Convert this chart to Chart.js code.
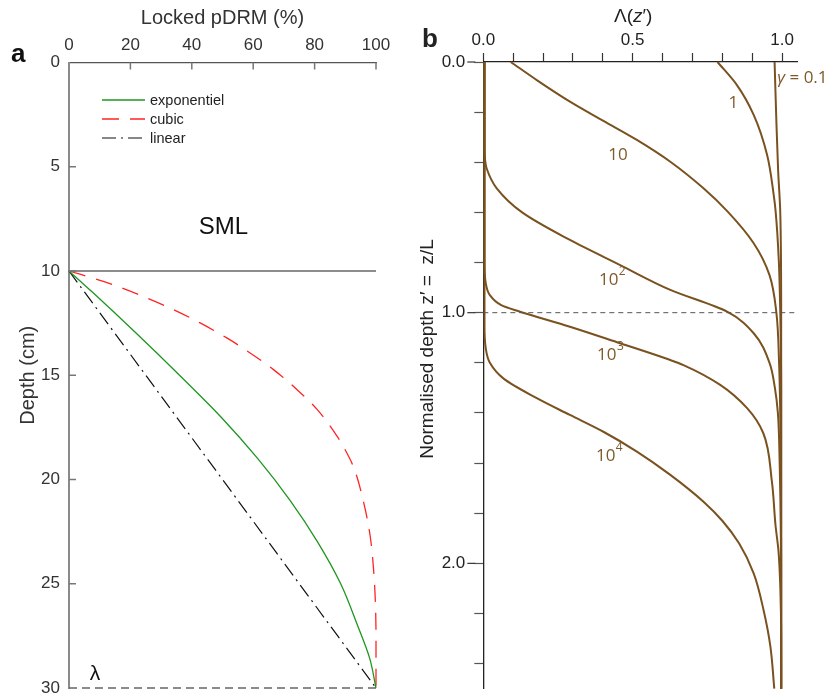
<!DOCTYPE html>
<html><head><meta charset="utf-8">
<script src="https://cdn.jsdelivr.net/npm/chart.js@4.4.1/dist/chart.umd.min.js"></script>
<style>
html,body{margin:0;padding:0;background:#fff;}
#wrap{position:relative;width:829px;height:697px;overflow:hidden;background:#fff;}
#ca{position:absolute;left:0;top:0;}
#cb{position:absolute;left:415px;top:0;}
</style></head><body>
<div id="wrap">
<canvas id="ca" width="415" height="697"></canvas>
<canvas id="cb" width="414" height="697"></canvas>
</div>
<script>
// ---------- Panel a data ----------
const pdrmTicks  = [0, 20, 40, 60, 80, 100];
const depthTicks = [0, 5, 10, 15, 20, 25, 30];
const expPct   = [0, 7.5, 22, 36, 49.5, 61.5, 72, 81, 88.5, 94, 98, 100];
const expDepth = [10, 11, 13, 15, 17, 19, 21, 23, 25, 27, 28.6, 30];
const cubPct   = [0, 11.2, 25.3, 34, 42.7, 51.4, 59, 66.6, 74.2, 80.8, 87.3, 91.6, 93.2, 96, 98.1, 99.2, 99.8, 100, 100];
const cubDepth = [10, 10.5, 11.29, 11.85, 12.49, 13.21, 13.93, 14.73, 15.68, 16.64, 17.92, 19.04, 19.6, 21.11, 22.71, 24.3, 25.9, 27.5, 30];
const linPct   = [0, 100];
const linDepth = [10, 30];
const smlPct   = [0, 100];
const smlDepth = [10, 10];
const lamPct   = [0, 100];
const lamDepth = [30, 30];
const legendNames = ['exponentiel', 'cubic', 'linear'];

// ---------- Panel b data ----------
const gammaLabels = ['0.1', '1', '10', '10', '10', '10'];
const gammaExps   = ['', '', '', '2', '3', '4'];
const lam01 = [0.975, 0.981, 0.987, 0.994, 0.997, 0.997];
const z01   = [0, 0.238, 0.437, 0.6, 1.0, 2.5];
const lam1  = [0.784, 0.849, 0.905, 0.95, 0.972, 0.978, 0.989, 0.994, 0.997, 0.997];
const z1    = [0, 0.092, 0.211, 0.371, 0.53, 0.59, 0.79, 1.0, 1.3, 2.5];
const lam10 = [0.092, 0.179, 0.29, 0.402, 0.514, 0.626, 0.737, 0.818, 0.905, 0.958, 0.981, 0.99, 0.995, 0.997, 0.997];
const z10   = [0, 0.072, 0.158, 0.235, 0.311, 0.398, 0.504, 0.597, 0.723, 0.85, 1.0, 1.2, 1.5, 2.0, 2.5];
const lam100 = [0.004, 0.004, 0.006, 0.011, 0.045, 0.13, 0.29, 0.458, 0.626, 0.816, 0.905, 0.958, 0.976, 0.986, 0.992, 0.996, 0.997];
const z100   = [0, 0.33, 0.39, 0.424, 0.504, 0.6, 0.71, 0.81, 0.909, 0.996, 1.082, 1.2, 1.3, 1.4, 1.6, 1.9, 2.5];
const lam1000 = [0.004, 0.004, 0.008, 0.022, 0.06, 0.123, 0.29, 0.458, 0.626, 0.67, 0.793, 0.883, 0.937, 0.966, 0.978, 0.988, 0.994, 0.997, 0.997];
const z1000   = [0, 0.8, 0.88, 0.93, 0.97, 0.996, 1.056, 1.122, 1.189, 1.209, 1.288, 1.381, 1.48, 1.674, 1.847, 1.95, 2.09, 2.3, 2.5];
const lam10000 = [0.004, 0.004, 0.008, 0.022, 0.067, 0.179, 0.29, 0.402, 0.514, 0.626, 0.737, 0.8, 0.856, 0.905, 0.938, 0.961, 0.974];
const z10000   = [0, 1.05, 1.14, 1.2, 1.262, 1.341, 1.408, 1.475, 1.554, 1.647, 1.754, 1.83, 1.92, 2.04, 2.186, 2.332, 2.5];
const refLam = [0, 1.05];
const refZ   = [1, 1];
const lambdaTickLabels = ['0.0', '0.5', '1.0'];
const zTickLabels      = ['0.0', '1.0', '2.0'];
// label anchor positions (data coords) for the gamma labels
const gammaLabelLam = [0.984, 0.837, 0.451, 0.431, 0.425, 0.421];
const gammaLabelZ   = [0.064, 0.164, 0.371, 0.869, 1.168, 1.572];

const pts = (xs, ys) => xs.map((v, i) => ({x: v, y: ys[i]}));
const FONT = "'Liberation Sans', Arial, Helvetica, sans-serif";
const BROWN = '#7a5220';
const BROWN_TXT = '#7e5a2a';

function line(ctx, x1, y1, x2, y2) { ctx.beginPath(); ctx.moveTo(x1, y1); ctx.lineTo(x2, y2); ctx.stroke(); }
function noPad(s) { s.paddingTop = 0; s.paddingBottom = 0; s.paddingLeft = 0; s.paddingRight = 0; }

// ---------- Panel a ----------
const panelAPlugin = {
  id: 'panelA',
  afterDraw(chart) {
    const {ctx, chartArea: ca, scales: {x, y}} = chart;
    ctx.save();
    ctx.strokeStyle = '#777'; ctx.lineWidth = 1.5;
    pdrmTicks.forEach(v => { if (v > 0) { const px = x.getPixelForValue(v); line(ctx, px, ca.top, px, ca.top + 7); } });
    depthTicks.forEach(v => { if (v > 0 && v < 30) { const py = y.getPixelForValue(v); line(ctx, ca.left, py, ca.left + 7, py); } });
    ctx.font = '14.5px ' + FONT; ctx.textBaseline = 'middle'; ctx.textAlign = 'left';
    legendNames.forEach((name, i) => {
      const ds = chart.data.datasets[i];
      const yy = ca.top + 37.5 + i * 19;
      ctx.strokeStyle = ds.borderColor; ctx.lineWidth = ds.borderWidth;
      ctx.setLineDash(ds.borderDash || []);
      line(ctx, ca.left + 33, yy, ca.left + 76, yy);
      ctx.setLineDash([]);
      ctx.fillStyle = '#222';
      ctx.fillText(name, ca.left + 81, yy + 0.5);
    });
    ctx.fillStyle = '#111'; ctx.textAlign = 'center';
    ctx.font = '24px ' + FONT;
    ctx.fillText('SML', x.getPixelForValue(50.3), y.getPixelForValue(7.9));
    ctx.font = '21px ' + FONT;
    ctx.fillText('λ', x.getPixelForValue(8.5), y.getPixelForValue(29.35));
    ctx.font = 'bold 26px ' + FONT; ctx.textAlign = 'left'; ctx.textBaseline = 'alphabetic';
    ctx.fillText('a', 11, 62);
    ctx.restore();
  }
};

new Chart(document.getElementById('ca'), {
  type: 'line',
  data: {datasets: [
    {label: 'exponentiel', data: pts(expPct, expDepth), borderColor: '#1f961f', borderWidth: 1.3, cubicInterpolationMode: 'monotone', clip: 6},
    {label: 'cubic', data: pts(cubPct, cubDepth), borderColor: '#ff2424', borderWidth: 1.3, borderDash: [17, 11], cubicInterpolationMode: 'monotone', clip: 6},
    {label: 'linear', data: pts(linPct, linDepth), borderColor: '#111', borderWidth: 1.2, borderDash: [14, 5, 2, 5], clip: 6},
    {label: 'SML base', data: pts(smlPct, smlDepth), borderColor: '#666', borderWidth: 1.6, clip: 6},
    {label: 'λ', data: pts(lamPct, lamDepth), borderColor: '#666', borderWidth: 1.5, borderDash: [8, 5], clip: 6}
  ]},
  options: {
    responsive: false, animation: false, devicePixelRatio: 1, indexAxis: 'y',
    elements: {point: {radius: 0}, line: {tension: 0}},
    layout: {padding: {top: 0, left: 0, right: 39, bottom: 9}},
    plugins: {legend: {display: false}, tooltip: {enabled: false}},
    scales: {
      x: {type: 'linear', position: 'top', min: 0, max: 100,
        afterFit: s => { s.height = 62.5; noPad(s); },
        ticks: {stepSize: 20, padding: 7, color: '#333', font: {family: FONT, size: 17}, maxRotation: 0, autoSkip: false},
        grid: {drawOnChartArea: false, drawTicks: false},
        border: {color: '#555', width: 1.3},
        title: {display: true, text: 'Locked pDRM (%)', color: '#333', font: {family: FONT, size: 20}, padding: {top: 6, bottom: 0}}
      },
      y: {type: 'linear', reverse: true, min: 0, max: 30,
        afterFit: s => { s.width = 69; noPad(s); },
        ticks: {stepSize: 5, padding: 9, color: '#333', font: {family: FONT, size: 17}, autoSkip: false},
        grid: {drawOnChartArea: false, drawTicks: false},
        border: {color: '#8a8a8a', width: 2},
        title: {display: true, text: 'Depth (cm)', color: '#333', font: {family: FONT, size: 20}, padding: {top: 16, bottom: 0}}
      }
    }
  },
  plugins: [panelAPlugin]
});

// ---------- Panel b ----------
const panelBPlugin = {
  id: 'panelB',
  afterDraw(chart) {
    const {ctx, chartArea: ca, scales: {x, y}} = chart;
    ctx.save();
    ctx.strokeStyle = '#333'; ctx.lineWidth = 1.2;
    zTickLabels.forEach(t => { const py = y.getPixelForValue(parseFloat(t)); line(ctx, ca.left - 16, py, ca.left - 8, py); });
    ctx.fillStyle = BROWN_TXT; ctx.textBaseline = 'middle';
    gammaLabels.forEach((lab, i) => {
      const px = x.getPixelForValue(gammaLabelLam[i]);
      const py = y.getPixelForValue(gammaLabelZ[i]);
      if (i === 0) {
        ctx.textAlign = 'left';
        ctx.font = 'italic 17px "Open Sans", sans-serif';
        ctx.fillText('γ', px, py);
        const w = ctx.measureText('γ').width;
        ctx.font = '17px "Open Sans", sans-serif';
        ctx.fillText(' = ' + lab, px + w, py);
      } else {
        ctx.font = '17px "Open Sans", sans-serif';
        const w = ctx.measureText(lab).width;
        ctx.font = '12px "Open Sans", sans-serif';
        const we = gammaExps[i] ? ctx.measureText(gammaExps[i]).width : 0;
        const x0 = px - (w + we) / 2;
        ctx.textAlign = 'left';
        ctx.font = '17px "Open Sans", sans-serif';
        ctx.fillText(lab, x0, py);
        if (gammaExps[i]) { ctx.font = '12px "Open Sans", sans-serif'; ctx.fillText(gammaExps[i], x0 + w + 0.5, py - 8); }
      }
    });
    ctx.fillStyle = '#222'; ctx.textBaseline = 'middle'; ctx.textAlign = 'left';
    const tf = '19px ' + FONT, tfi = 'italic 19px ' + FONT;
    const parts = [['Λ(', tf], ['z', tfi], ['′)', tf]];
    let tw = 0; parts.forEach(p => { ctx.font = p[1]; tw += ctx.measureText(p[0]).width; });
    let cx = (ca.left + ca.right) / 2 - 7 - tw / 2;
    parts.forEach(p => { ctx.font = p[1]; ctx.fillText(p[0], cx, 17); cx += ctx.measureText(p[0]).width; });
    ctx.save();
    ctx.translate(13, ca.top + 287); ctx.rotate(-Math.PI / 2);
    ctx.textAlign = 'center'; ctx.font = '19px ' + FONT;
    ctx.fillText("Normalised depth z′ =  z/L", 0, 0);
    ctx.restore();
    ctx.font = 'bold 26px ' + FONT; ctx.textAlign = 'left'; ctx.textBaseline = 'alphabetic';
    ctx.fillText('b', 7, 47);
    ctx.restore();
  }
};

const bDs = (lab, xs, ys) => ({label: 'γ = ' + lab, data: pts(xs, ys), borderColor: BROWN, borderWidth: 2, cubicInterpolationMode: 'monotone', clip: 6});
new Chart(document.getElementById('cb'), {
  type: 'line',
  data: {datasets: [
    {label: 'z′ = 1', data: pts(refLam, refZ), borderColor: '#555', borderWidth: 1, borderDash: [5, 4], clip: 2},
    bDs('0.1', lam01, z01),
    bDs('1', lam1, z1),
    bDs('10', lam10, z10),
    bDs('10²', lam100, z100),
    bDs('10³', lam1000, z1000),
    bDs('10⁴', lam10000, z10000)
  ]},
  options: {
    responsive: false, animation: false, devicePixelRatio: 1, indexAxis: 'y',
    elements: {point: {radius: 0}, line: {tension: 0}},
    layout: {padding: {top: 0, left: 0, right: 32, bottom: 8.3}},
    plugins: {legend: {display: false}, tooltip: {enabled: false}},
    scales: {
      x: {type: 'linear', position: 'top', min: 0, max: 1.05,
        afterFit: s => { s.height = 62; noPad(s); },
        ticks: {stepSize: 0.1, includeBounds: false, padding: 2, color: '#222', font: {family: FONT, size: 17}, maxRotation: 0, autoSkip: false,
          callback: v => { const s = Number(v).toFixed(1); return lambdaTickLabels.includes(s) ? s : ''; }},
        grid: {drawOnChartArea: false, drawTicks: true, tickLength: 9, tickColor: '#333', tickWidth: 1.2},
        border: {color: '#222', width: 1.3},
        title: {display: false}
      },
      y: {type: 'linear', reverse: true, min: 0, max: 2.5,
        afterFit: s => { s.width = 68.3; noPad(s); },
        ticks: {stepSize: 0.2, includeBounds: false, padding: 9, color: '#222', font: {family: FONT, size: 17}, autoSkip: false,
          callback: v => { const s = Number(v).toFixed(1); return zTickLabels.includes(s) ? s : ''; }},
        grid: {drawOnChartArea: false, drawTicks: true, tickLength: 9, tickColor: '#555', tickWidth: 1.2},
        border: {color: '#222', width: 1.3},
        title: {display: false}
      }
    }
  },
  plugins: [panelBPlugin]
});
</script>
</body></html>
